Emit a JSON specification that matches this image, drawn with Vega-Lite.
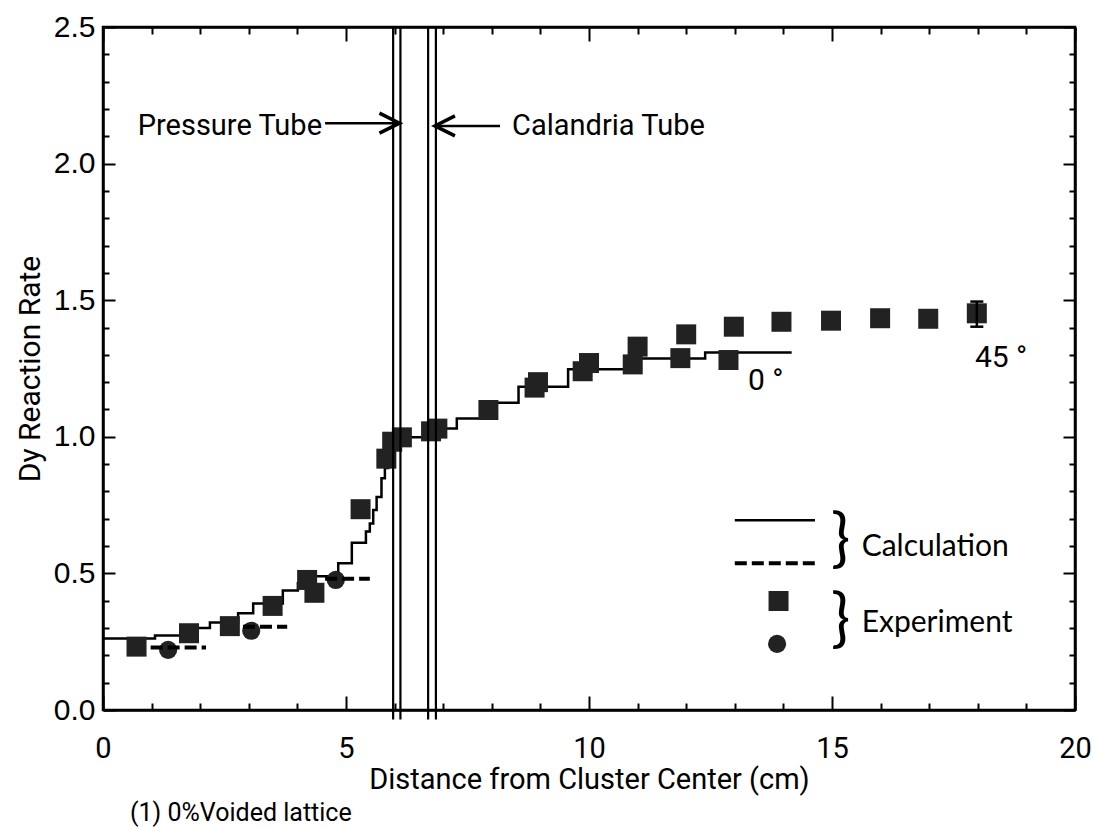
{
  "$schema": "https://vega.github.io/schema/vega-lite/v6.json",
  "width": 972,
  "height": 683,
  "autosize": "none",
  "padding": {"left": 103, "top": 27, "right": 19, "bottom": 117},
  "background": "white",
  "config": {"view": {"stroke": "black", "strokeWidth": 2.5}, "font": "Roboto"},
  "title": {"text": "(1) 0%Voided lattice", "orient": "bottom", "anchor": "start", "frame": "group", "font": "Roboto", "fontSize": 25, "fontWeight": "normal", "color": "black", "offset": 7, "dx": 27},
  "datasets": {
    "calc": [
      {"x": 0, "y": 0.262}, {"x": 1.07, "y": 0.273}, {"x": 1.6, "y": 0.3}, {"x": 2.2, "y": 0.32},
      {"x": 2.78, "y": 0.354}, {"x": 3.09, "y": 0.39}, {"x": 3.7, "y": 0.437}, {"x": 4.01, "y": 0.464},
      {"x": 4.25, "y": 0.49}, {"x": 4.84, "y": 0.537}, {"x": 5.12, "y": 0.612}, {"x": 5.41, "y": 0.653},
      {"x": 5.49, "y": 0.683}, {"x": 5.56, "y": 0.732}, {"x": 5.63, "y": 0.78}, {"x": 5.73, "y": 0.848},
      {"x": 5.8, "y": 0.886}, {"x": 5.87, "y": 0.93}, {"x": 5.93, "y": 0.97}, {"x": 6.0, "y": 0.998},
      {"x": 6.6, "y": 1.015}, {"x": 6.75, "y": 1.03}, {"x": 7.28, "y": 1.067}, {"x": 7.93, "y": 1.125},
      {"x": 8.55, "y": 1.183}, {"x": 9.57, "y": 1.247}, {"x": 10.74, "y": 1.287}, {"x": 12.39, "y": 1.309},
      {"x": 14.17, "y": 1.309}
    ],
    "calc2": [
      {"seg": 1, "x": 0.98, "y": 0.229}, {"seg": 1, "x": 2.12, "y": 0.229},
      {"seg": 2, "x": 2.88, "y": 0.305}, {"seg": 2, "x": 3.79, "y": 0.305},
      {"seg": 3, "x": 4.57, "y": 0.48}, {"seg": 3, "x": 5.49, "y": 0.48}
    ],
    "sq": [
      {"x": 0.69, "y": 0.232}, {"x": 1.77, "y": 0.281}, {"x": 2.61, "y": 0.307}, {"x": 3.49, "y": 0.381},
      {"x": 4.2, "y": 0.476}, {"x": 4.35, "y": 0.429}, {"x": 5.3, "y": 0.735}, {"x": 5.83, "y": 0.92},
      {"x": 5.95, "y": 0.982}, {"x": 6.15, "y": 0.998}, {"x": 6.75, "y": 1.02}, {"x": 6.88, "y": 1.03},
      {"x": 7.93, "y": 1.098}, {"x": 8.88, "y": 1.18}, {"x": 8.95, "y": 1.2}, {"x": 9.87, "y": 1.24},
      {"x": 10.0, "y": 1.27}, {"x": 10.9, "y": 1.265}, {"x": 11.0, "y": 1.33}, {"x": 11.88, "y": 1.288},
      {"x": 12.0, "y": 1.375}, {"x": 12.87, "y": 1.281}, {"x": 12.98, "y": 1.403}, {"x": 13.96, "y": 1.421},
      {"x": 14.98, "y": 1.425}, {"x": 15.99, "y": 1.434}, {"x": 16.98, "y": 1.432}, {"x": 17.98, "y": 1.452}
    ],
    "circ": [
      {"x": 1.34, "y": 0.22}, {"x": 3.05, "y": 0.29}, {"x": 4.79, "y": 0.476}
    ],
    "tubes": [
      {"x": 5.97, "top": 2.5, "bot": -0.035}, {"x": 6.12, "top": 2.5, "bot": -0.035},
      {"x": 6.69, "top": 2.5, "bot": -0.035}, {"x": 6.85, "top": 2.5, "bot": -0.035}
    ],
    "err": [{"x": 17.98, "lo": 1.403, "hi": 1.495}],
    "errcap": [{"x": 17.98, "y": 1.403}, {"x": 17.98, "y": 1.495}],
    "arrowline": [
      {"a": "p", "x": 4.57, "y": 2.148}, {"a": "p", "x": 6.08, "y": 2.148},
      {"a": "c", "x": 6.85, "y": 2.138}, {"a": "c", "x": 8.17, "y": 2.138}
    ],
    "headR": [{"x": 6.1, "y": 2.148}],
    "headL": [{"x": 6.83, "y": 2.138}],
    "tubeText": [
      {"x": 2.61, "y": 2.137, "t": "Pressure Tube"},
      {"x": 10.4, "y": 2.137, "t": "Calandria Tube"}
    ],
    "angText": [
      {"x": 13.27, "y": 1.204, "t": "0 °"},
      {"x": 17.94, "y": 1.288, "t": "45 °"}
    ],
    "legLines": [
      {"k": "solid", "x": 13.0, "y": 0.695}, {"k": "solid", "x": 14.65, "y": 0.695}
    ],
    "legDash": [
      {"k": "dash", "x": 13.0, "y": 0.537}, {"k": "dash", "x": 14.65, "y": 0.537}
    ],
    "legSq": [{"x": 13.9, "y": 0.399}],
    "legCirc": [{"x": 13.87, "y": 0.242}],
    "braces": [{"x": 15.18, "y": 0.62, "t": "}"}, {"x": 15.18, "y": 0.324, "t": "}"}],
    "legText": [
      {"x": 15.61, "y": 0.598, "t": "Calculation"},
      {"x": 15.61, "y": 0.318, "t": "Experiment"}
    ]
  },
  "layer": [
    {
      "data": {"name": "calc"},
      "mark": {"type": "line", "interpolate": "step-after", "color": "black", "strokeWidth": 2.5},
      "encoding": {
        "x": {"field": "x", "type": "quantitative",
          "scale": {"domain": [0, 20], "nice": false, "zero": false},
          "axis": {"orient": "bottom", "values": [0,1,2,3,4,5,6,7,8,9,10,11,12,13,14,15,16,17,18,19,20],
            "labelExpr": "datum.value % 5 === 0 ? datum.label : ''",
            "tickSize": {"condition": {"test": "datum.value % 5 === 0", "value": -14}, "value": -7},
            "tickColor": "black", "tickWidth": 2, "domainColor": "black", "domainWidth": 2.5,
            "grid": false, "labelFont": "Roboto", "labelFontSize": 29, "labelColor": "black",
            "labelPadding": 38, "labelFlush": false, "labelOverlap": false,
            "title": "Distance from Cluster Center  (cm)", "titleFont": "Roboto",
            "titleFontSize": 29, "titleFontWeight": "normal", "titleColor": "black", "titlePadding": -5}},
        "y": {"field": "y", "type": "quantitative",
          "scale": {"domain": [0, 2.5], "nice": false, "zero": false},
          "axis": {"orient": "left", "values": [0,0.1,0.2,0.3,0.4,0.5,0.6,0.7,0.8,0.9,1,1.1,1.2,1.3,1.4,1.5,1.6,1.7,1.8,1.9,2,2.1,2.2,2.3,2.4,2.5],
            "labelExpr": "datum.value % 0.5 === 0 ? format(datum.value, '.1f') : ''",
            "tickSize": {"condition": {"test": "datum.value % 0.5 === 0", "value": -12}, "value": -6},
            "tickColor": "black", "tickWidth": 2, "domainColor": "black", "domainWidth": 2.5,
            "grid": false, "labelFont": "Liberation Sans", "labelFontSize": 30, "labelColor": "black",
            "labelPadding": 20, "labelFlush": false, "labelOverlap": false,
            "title": "Dy Reaction Rate", "titleFont": "Roboto",
            "titleFontSize": 30, "titleFontWeight": "normal", "titleColor": "black", "titlePadding": 8}}
      }
    },
    {
      "data": {"name": "circ"},
      "mark": {"type": "point", "shape": "circle", "filled": true, "size": 330, "color": "#222222", "opacity": 1},
      "encoding": {
        "x": {"field": "x", "type": "quantitative",
          "axis": {"orient": "top", "values": [0,1,2,3,4,5,6,7,8,9,10,11,12,13,14,15,16,17,18,19,20],
            "labels": false, "title": null, "grid": false,
            "tickSize": {"condition": {"test": "datum.value % 5 === 0", "value": -14}, "value": -7},
            "tickColor": "black", "tickWidth": 2, "domainColor": "black", "domainWidth": 2.5}},
        "y": {"field": "y", "type": "quantitative",
          "axis": {"orient": "right", "values": [0,0.1,0.2,0.3,0.4,0.5,0.6,0.7,0.8,0.9,1,1.1,1.2,1.3,1.4,1.5,1.6,1.7,1.8,1.9,2,2.1,2.2,2.3,2.4,2.5],
            "labels": false, "title": null, "grid": false,
            "tickSize": {"condition": {"test": "datum.value % 0.5 === 0", "value": -12}, "value": -6},
            "tickColor": "black", "tickWidth": 2, "domainColor": "black", "domainWidth": 2.5}}
      }
    },
    {
      "data": {"name": "calc2"},
      "mark": {"type": "line", "color": "black", "strokeWidth": 4, "strokeDash": [12, 5]},
      "encoding": {
        "x": {"field": "x", "type": "quantitative", "axis": null},
        "y": {"field": "y", "type": "quantitative", "axis": null},
        "detail": {"field": "seg", "type": "nominal"}
      }
    },
    {
      "data": {"name": "sq"},
      "mark": {"type": "point", "shape": "square", "filled": true, "size": 400, "color": "#222222", "opacity": 1},
      "encoding": {
        "x": {"field": "x", "type": "quantitative", "axis": null},
        "y": {"field": "y", "type": "quantitative", "axis": null}
      }
    },
    {
      "data": {"name": "tubes"},
      "mark": {"type": "rule", "color": "black", "strokeWidth": 2.2},
      "encoding": {
        "x": {"field": "x", "type": "quantitative", "axis": null},
        "y": {"field": "top", "type": "quantitative", "axis": null},
        "y2": {"field": "bot"}
      }
    },
    {
      "data": {"name": "err"},
      "mark": {"type": "rule", "color": "black", "strokeWidth": 2.5},
      "encoding": {
        "x": {"field": "x", "type": "quantitative", "axis": null},
        "y": {"field": "lo", "type": "quantitative", "axis": null},
        "y2": {"field": "hi"}
      }
    },
    {
      "data": {"name": "errcap"},
      "mark": {"type": "point", "shape": "M -1 0 L 1 0", "filled": false, "size": 170, "stroke": "black", "strokeWidth": 2.5, "opacity": 1},
      "encoding": {
        "x": {"field": "x", "type": "quantitative", "axis": null},
        "y": {"field": "y", "type": "quantitative", "axis": null}
      }
    },
    {
      "data": {"name": "arrowline"},
      "mark": {"type": "line", "color": "black", "strokeWidth": 2.5},
      "encoding": {
        "x": {"field": "x", "type": "quantitative", "axis": null},
        "y": {"field": "y", "type": "quantitative", "axis": null},
        "detail": {"field": "a", "type": "nominal"}
      }
    },
    {
      "data": {"name": "headR"},
      "mark": {"type": "point", "shape": "M -1 -0.5 L 0 0 L -1 0.5", "filled": false, "size": 1600, "stroke": "black", "strokeWidth": 3.5, "opacity": 1},
      "encoding": {
        "x": {"field": "x", "type": "quantitative", "axis": null},
        "y": {"field": "y", "type": "quantitative", "axis": null}
      }
    },
    {
      "data": {"name": "headL"},
      "mark": {"type": "point", "shape": "M 1 -0.5 L 0 0 L 1 0.5", "filled": false, "size": 1600, "stroke": "black", "strokeWidth": 3.5, "opacity": 1},
      "encoding": {
        "x": {"field": "x", "type": "quantitative", "axis": null},
        "y": {"field": "y", "type": "quantitative", "axis": null}
      }
    },
    {
      "data": {"name": "tubeText"},
      "mark": {"type": "text", "font": "Roboto", "fontSize": 29, "color": "black", "align": "center", "baseline": "middle"},
      "encoding": {
        "x": {"field": "x", "type": "quantitative", "axis": null},
        "y": {"field": "y", "type": "quantitative", "axis": null},
        "text": {"field": "t"}
      }
    },
    {
      "data": {"name": "angText"},
      "mark": {"type": "text", "font": "Roboto", "fontSize": 30, "color": "black", "align": "left", "baseline": "middle"},
      "encoding": {
        "x": {"field": "x", "type": "quantitative", "axis": null},
        "y": {"field": "y", "type": "quantitative", "axis": null},
        "text": {"field": "t"}
      }
    },
    {
      "data": {"name": "legLines"},
      "mark": {"type": "line", "color": "black", "strokeWidth": 2.5},
      "encoding": {
        "x": {"field": "x", "type": "quantitative", "axis": null},
        "y": {"field": "y", "type": "quantitative", "axis": null}
      }
    },
    {
      "data": {"name": "legDash"},
      "mark": {"type": "line", "color": "black", "strokeWidth": 4, "strokeDash": [12, 5]},
      "encoding": {
        "x": {"field": "x", "type": "quantitative", "axis": null},
        "y": {"field": "y", "type": "quantitative", "axis": null}
      }
    },
    {
      "data": {"name": "legSq"},
      "mark": {"type": "point", "shape": "square", "filled": true, "size": 400, "color": "#222222", "opacity": 1},
      "encoding": {
        "x": {"field": "x", "type": "quantitative", "axis": null},
        "y": {"field": "y", "type": "quantitative", "axis": null}
      }
    },
    {
      "data": {"name": "legCirc"},
      "mark": {"type": "point", "shape": "circle", "filled": true, "size": 330, "color": "#222222", "opacity": 1},
      "encoding": {
        "x": {"field": "x", "type": "quantitative", "axis": null},
        "y": {"field": "y", "type": "quantitative", "axis": null}
      }
    },
    {
      "data": {"name": "braces"},
      "mark": {"type": "text", "font": "Lato", "fontSize": 64, "color": "black", "align": "center", "baseline": "middle"},
      "encoding": {
        "x": {"field": "x", "type": "quantitative", "axis": null},
        "y": {"field": "y", "type": "quantitative", "axis": null},
        "text": {"field": "t"}
      }
    },
    {
      "data": {"name": "legText"},
      "mark": {"type": "text", "font": "Lato", "fontSize": 30, "color": "black", "align": "left", "baseline": "middle"},
      "encoding": {
        "x": {"field": "x", "type": "quantitative", "axis": null},
        "y": {"field": "y", "type": "quantitative", "axis": null},
        "text": {"field": "t"}
      }
    }
  ]
}
